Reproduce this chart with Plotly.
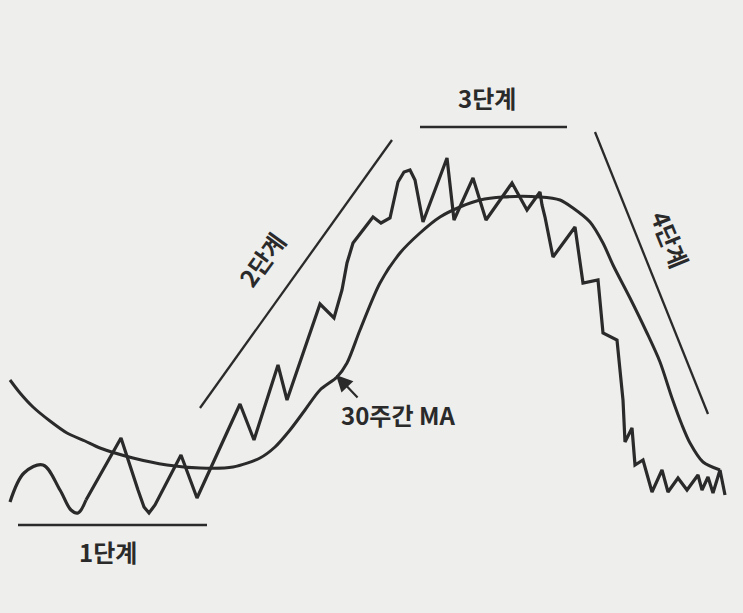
import plotly.graph_objects as go

# Price path (week, level) (level axis is reversed, picture-like)
# Smooth opening wave of stage 1
wave_x = [10, 24, 43, 60, 71, 78, 86]
wave_y = [502, 473, 465, 490, 510, 513, 500]
# Jagged remainder of the price path
price_x = [86, 121, 138, 144, 149, 155, 181, 197, 240, 254,
           278, 287, 320, 334, 342, 347, 353, 373, 381, 390, 394, 398, 404, 410, 415, 423, 447, 454,
           473, 486, 512, 527, 540, 542, 545, 553, 575, 583, 598, 603, 617, 623, 625, 632, 635,
           643, 652, 662, 668, 678, 687, 698, 702, 708, 713, 720, 725]
price_y = [500, 438, 490, 507, 513, 505, 455, 498, 404, 440,
           365, 400, 304, 318, 290, 263, 243, 217, 223, 218, 200, 182, 172, 170, 180, 222, 158, 220,
           178, 220, 183, 210, 192, 205, 217, 257, 227, 283, 280, 333, 340, 400, 442, 428, 465,
           460, 492, 470, 492, 478, 490, 475, 490, 477, 493, 470, 495]

# 30-week moving average
ma_x = [10, 20, 33, 50, 67, 85, 100, 133, 167, 200, 233, 260, 275, 290, 305, 320, 337, 347, 360,
        380, 400, 420, 440, 460, 480, 503, 540, 560, 573, 590, 603, 613, 630, 647, 660, 672, 682,
        690, 703, 720]
ma_y = [380, 393, 407, 421, 433, 441, 448, 458, 465, 468, 467, 458, 447, 430, 410, 390, 377, 363, 330,
        283, 253, 233, 217, 207, 200, 197, 197, 200, 208, 222, 243, 265, 298, 333, 362, 398, 425,
        443, 462, 470]

# Stage guide lines
stage1_x, stage1_y = [18, 207], [525, 525]
stage2_x, stage2_y = [200, 392], [408, 140]
stage3_x, stage3_y = [420, 567], [127, 127]
stage4_x, stage4_y = [595, 708], [132, 414]

labels = ["1단계", "2단계", "3단계", "4단계", "30주간 MA"]

ink = "#2a2a2a"
bg = "#eeeeec"
fig = go.Figure()
for sx, sy in [(stage1_x, stage1_y), (stage2_x, stage2_y), (stage3_x, stage3_y), (stage4_x, stage4_y)]:
    fig.add_trace(go.Scatter(x=sx, y=sy, mode="lines", line=dict(color=ink, width=2.3),
                             hoverinfo="skip", showlegend=False))
fig.add_trace(go.Scatter(x=ma_x, y=ma_y, mode="lines", line=dict(color=ink, width=3, shape="spline", smoothing=0.8),
                         showlegend=False))
fig.add_trace(go.Scatter(x=wave_x, y=wave_y, mode="lines", line=dict(color=ink, width=3.2, shape="spline", smoothing=1),
                         showlegend=False))
fig.add_trace(go.Scatter(x=price_x, y=price_y, mode="lines", line=dict(color=ink, width=3.2),
                         showlegend=False))

font = dict(family="Noto Sans CJK KR, Noto Sans, sans-serif", size=24, color=ink, weight="bold")
fig.add_annotation(x=108, y=551, text=labels[0], showarrow=False, font=font)
fig.add_annotation(x=261, y=259, text=labels[1], showarrow=False, font=font, textangle=-54)
fig.add_annotation(x=487, y=97, text=labels[2], showarrow=False, font=font)
fig.add_annotation(x=671, y=239, text=labels[3], showarrow=False, font=font, textangle=68)
fig.add_annotation(x=398, y=414, text=labels[4], showarrow=False, font=font)
fig.add_annotation(x=336, y=375, ax=359, ay=399, axref="x", ayref="y", text="", showarrow=True,
                   arrowhead=2, arrowsize=1.5, arrowwidth=2.2, arrowcolor=ink)

fig.update_layout(
    width=743, height=613, margin=dict(l=0, r=0, t=0, b=0),
    paper_bgcolor=bg, plot_bgcolor=bg, hovermode=False,
    xaxis=dict(range=[0, 743], visible=False, fixedrange=True),
    yaxis=dict(range=[613, 0], visible=False, fixedrange=True),
)
fig.write_html("out.html", config={"displayModeBar": False, "staticPlot": True},
               post_script="document.body.style.margin='0px';document.body.style.background='%s';" % bg)
